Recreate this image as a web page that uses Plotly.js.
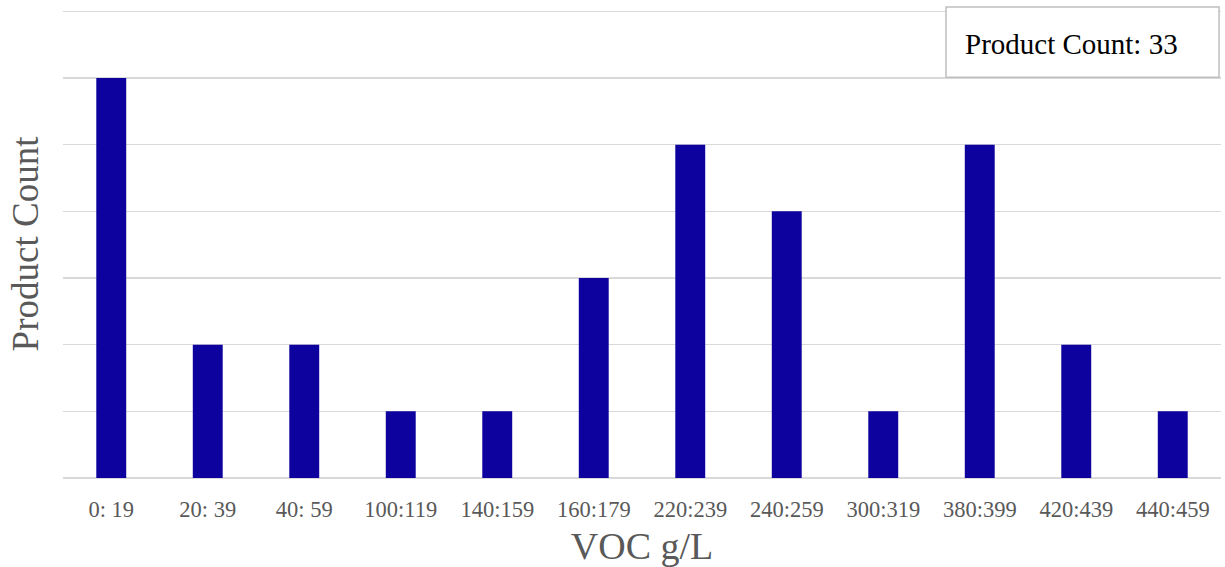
<!DOCTYPE html>
<html>
<head>
<meta charset="utf-8">
<script src="https://cdn.plot.ly/plotly-3.0.1.min.js"></script>
<style>html,body{margin:0;padding:0;background:#fff;}#chart{width:1225px;height:567px;}</style>
</head>
<body>
<div id="chart"></div>
<script>
const categories = ["0: 19","20: 39","40: 59","100:119","140:159","160:179","220:239","240:259","300:319","380:399","420:439","440:459"];
const counts = [6,2,2,1,1,3,5,4,1,5,2,1];
const total = counts.reduce((a,b)=>a+b,0);

const trace = {
  type: 'bar',
  x: categories,
  y: counts,
  marker: {color: '#0e029e'},
  hoverinfo: 'x+y'
};

const layout = {
  width: 1225, height: 567,
  margin: {l: 63, r: 4, t: 10, b: 89},
  paper_bgcolor: '#fff', plot_bgcolor: '#fff',
  bargap: 0.69,
  font: {family: '"Liberation Serif", "Times New Roman", serif', color: '#595959'},
  showlegend: false,
  xaxis: {
    type: 'category',
    tickfont: {size: 22.5, color: '#595959'},
    ticks: '', showgrid: false, showline: false, zeroline: false,
    ticklabelstandoff: 15,
    title: {text: 'VOC g/L', font: {size: 38, color: '#595959'}, standoff: 11}
  },
  yaxis: {
    range: [0, 7.02], tickvals: [0,1,2,3,4,5,6,7], showticklabels: false,
    showgrid: true, gridcolor: '#d9d9d9', gridwidth: 1.5,
    zeroline: true, zerolinecolor: '#d9d9d9', zerolinewidth: 2,
    ticks: '',
    title: {text: 'Product Count', font: {size: 37, color: '#595959'}, standoff: 12}
  },
  shapes: [{
    type: 'rect', xref: 'paper', yref: 'paper',
    x0: 0.7625, x1: 0.9983, y0: 0.8565, y1: 1.0064,
    line: {color: '#bfbfbf', width: 1.5}, fillcolor: '#fff', layer: 'above'
  }],
  annotations: [{
    xref: 'paper', yref: 'paper', x: 0.7775, y: 0.927,
    xanchor: 'left', yanchor: 'middle',
    text: 'Product Count: ' + total,
    showarrow: false,
    font: {size: 29, color: '#000', family: '"Liberation Serif", serif'}
  }]
};

Plotly.newPlot('chart', [trace], layout, {displayModeBar: false, staticPlot: true});
</script>
</body>
</html>
